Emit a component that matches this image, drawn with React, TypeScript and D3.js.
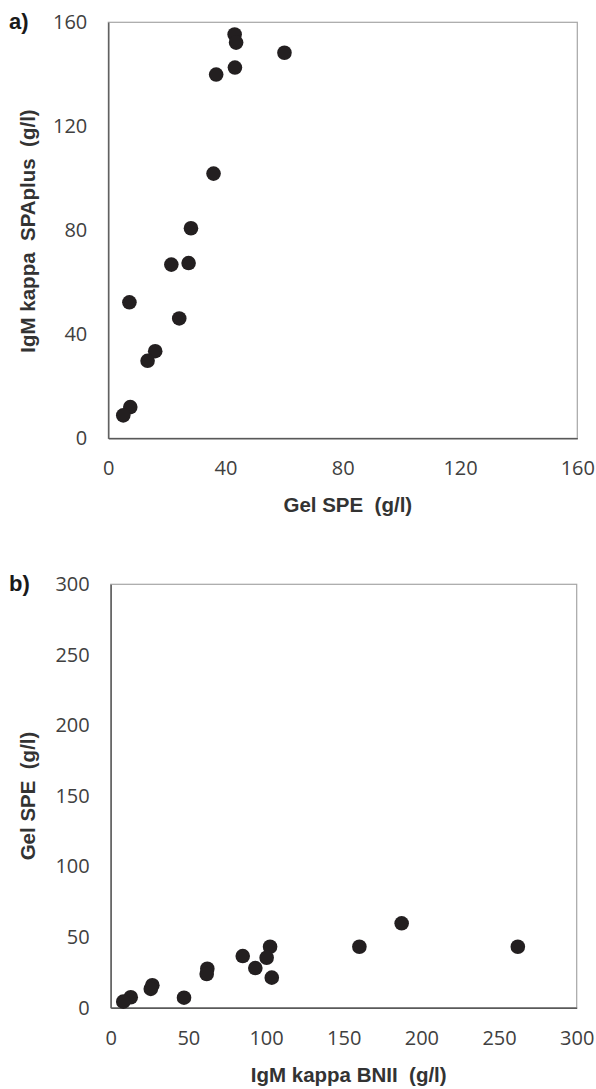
import React, { useEffect, useRef } from 'react';
import * as d3 from 'd3';

// Panel a) : Gel SPE vs IgM kappa SPAplus
const gelSpeA = [43.1, 43.6, 60.1, 43.2, 36.8, 35.9, 28.2, 21.5, 27.4, 24.2, 7.2, 16, 13.4, 7.5, 5.1];
const spaplusA = [155.3, 152.2, 148.3, 142.6, 139.9, 101.8, 80.8, 66.8, 67.4, 46.1, 52.3, 33.5, 29.8, 12, 8.8];
const ticksA = [0, 40, 80, 120, 160];

// Panel b) : IgM kappa BNII vs Gel SPE
const bniiB = [187.3, 160.1, 262.1, 102.6, 100.4, 85, 93.1, 103.7, 62.2, 61.8, 26.8, 25.8, 47.2, 12.9, 8.1];
const gelSpeB = [59.8, 43.2, 43.2, 43.2, 35.4, 36.6, 28.1, 21.3, 27.6, 23.9, 15.9, 13.3, 7.1, 7.4, 4.3];
const ticksB = [0, 50, 100, 150, 200, 250, 300];

const W = 596;
const H = 1089;

const App = () => {
  const svgRef = useRef<SVGSVGElement>(null);

  useEffect(() => {
    const svg = d3.select(svgRef.current);
    svg.selectAll('*').remove();

    const drawPanel = (opts) => {
      const { left, right, top, bottom, xs, ys, ticks, max, label, xTitle, yTitle, yTitleY } = opts;

      const x = d3.scaleLinear().domain([0, max]).range([left, right]);
      const y = d3.scaleLinear().domain([0, max]).range([bottom, top]);

      const g = svg.append('g');

      // plot frame
      g.append('rect')
        .attr('x', left)
        .attr('y', top)
        .attr('width', right - left)
        .attr('height', bottom - top)
        .attr('fill', 'none')
        .attr('stroke', '#a6a6a6')
        .attr('stroke-width', 1.2);

      // x axis
      const xAxis = g.append('g')
        .attr('transform', `translate(0, ${bottom})`)
        .call(d3.axisBottom(x).tickValues(ticks).tickSize(0).tickPadding(23));
      xAxis.select('.domain').attr('stroke', '#595959').attr('stroke-width', 1.4);

      // y axis
      const yAxis = g.append('g')
        .attr('transform', `translate(${left}, 0)`)
        .call(d3.axisLeft(y).tickValues(ticks).tickSize(0).tickPadding(21));
      yAxis.select('.domain').attr('stroke', '#595959').attr('stroke-width', 1.4);

      g.selectAll('.tick text')
        .attr('font-family', '"Open Sans", sans-serif')
        .attr('font-size', 20)
        .attr('fill', '#404040');

      // dots
      g.selectAll('circle.dot')
        .data(xs.map((v, i) => [v, ys[i]]))
        .enter()
        .append('circle')
        .attr('class', 'dot')
        .attr('cx', d => x(d[0]))
        .attr('cy', d => y(d[1]))
        .attr('r', 7.3)
        .attr('fill', '#231f20');

      // x title
      g.append('text')
        .attr('x', (left + right) / 2 + 5)
        .attr('y', bottom + 74)
        .attr('text-anchor', 'middle')
        .attr('font-family', '"Liberation Sans", Arial, sans-serif')
        .attr('font-weight', 'bold')
        .attr('font-size', 20.5)
        .attr('fill', '#333')
        .style('white-space', 'pre')
        .text(xTitle);

      // y title
      g.append('text')
        .attr('transform', `translate(35, ${yTitleY}) rotate(-90)`)
        .attr('text-anchor', 'middle')
        .attr('font-family', '"Liberation Sans", Arial, sans-serif')
        .attr('font-weight', 'bold')
        .attr('font-size', 20.5)
        .attr('fill', '#333')
        .style('white-space', 'pre')
        .text(yTitle);

      // panel label
      g.append('text')
        .attr('x', 9)
        .attr('y', top + 7)
        .attr('font-family', '"Liberation Sans", Arial, sans-serif')
        .attr('font-weight', 'bold')
        .attr('font-size', 22)
        .attr('fill', '#1a1a1a')
        .text(label);
    };

    drawPanel({
      left: 108.3, right: 577.3, top: 22.3, bottom: 438.3,
      xs: gelSpeA, ys: spaplusA, ticks: ticksA, max: 160,
      label: 'a)', xTitle: 'Gel SPE  (g/l)', yTitle: 'IgM kappa  SPAplus  (g/l)', yTitleY: 231,
    });

    drawPanel({
      left: 110.7, right: 576.7, top: 584.3, bottom: 1007.7,
      xs: bniiB, ys: gelSpeB, ticks: ticksB, max: 300,
      label: 'b)', xTitle: 'IgM kappa BNII  (g/l)', yTitle: 'Gel SPE  (g/l)', yTitleY: 796,
    });
  }, []);

  return (
    <svg
      ref={svgRef}
      width={W}
      height={H}
      style={{ position: 'absolute', left: 0, top: 0, background: '#fff' }}
    />
  );
};

export default App;
